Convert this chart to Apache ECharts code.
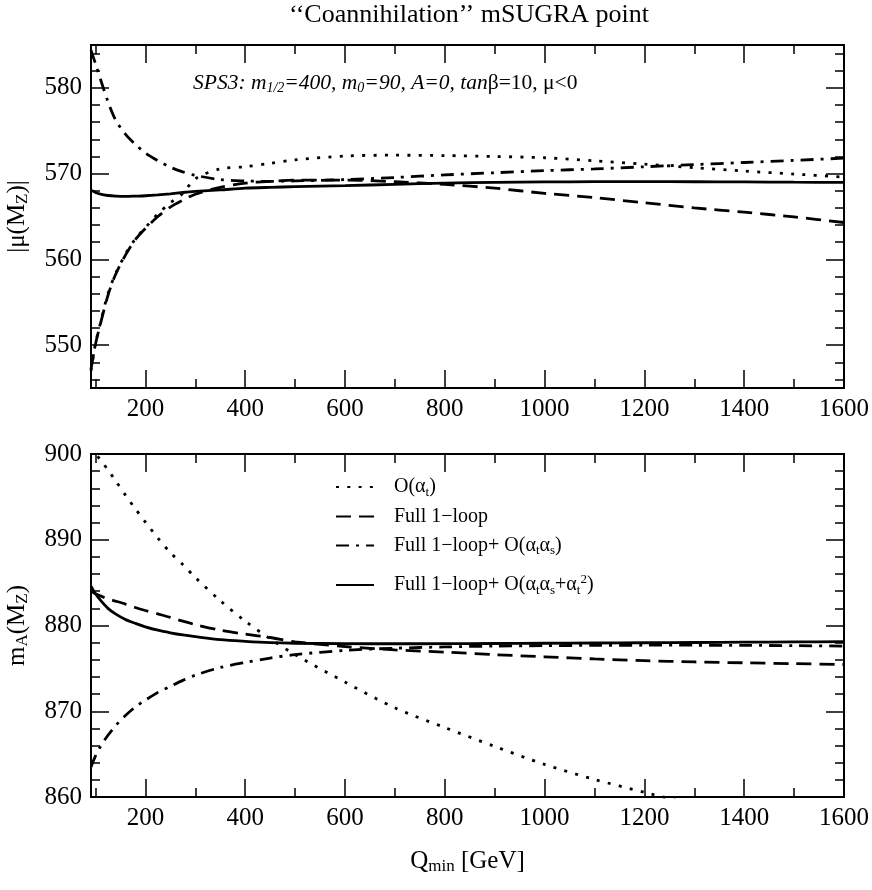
<!DOCTYPE html>
<html><head><meta charset="utf-8">
<script src="https://cdn.jsdelivr.net/npm/echarts@6/dist/echarts.min.js"></script>
<style>html,body{margin:0;padding:0;background:#fff}#c{width:872px;height:890px}</style>
</head><body><div id="c"></div>
<script>
// ---- data ----
const qValues = [91,100,110,125,140,160,180,200,225,250,275,300,350,400,450,500,600,700,800,900,1000,1100,1200,1300,1400,1500,1600];

// top panel |mu(MZ)|
const muAlphaT   = [547.0,550.2,552.6,556.0,558.3,560.6,562.4,563.7,565.3,566.6,567.7,569.4,570.55,570.8,571.2,571.6,572.05,572.15,572.1,572.0,571.85,571.5,571.1,570.7,570.3,569.95,569.6];
const muOneLoop  = [547.2,550.1,552.5,555.8,558.2,560.5,562.3,563.6,565.0,566.1,566.9,567.6,568.4,568.9,569.1,569.25,569.25,569.05,568.75,568.3,567.7,567.2,566.6,566.0,565.5,564.95,564.3];
const muAtAs     = [584.4,582.8,581.0,578.4,576.3,574.6,573.4,572.4,571.5,570.75,570.2,569.8,569.3,569.15,569.1,569.15,569.3,569.55,569.85,570.1,570.35,570.55,570.8,571.05,571.3,571.55,571.8];
const muAtAsAt2  = [568.05,567.8,567.6,567.45,567.38,567.35,567.38,567.42,567.52,567.65,567.8,567.92,568.1,568.3,568.4,568.48,568.6,568.75,568.9,568.98,569.03,569.06,569.06,569.05,569.03,569.0,568.98];

// bottom panel mA(MZ)
const maAlphaT   = [900.8,900.05,899.3,898.15,896.9,895.2,893.6,892.05,890.2,888.5,887.1,885.6,882.9,880.5,878.45,876.6,873.4,870.4,868.1,865.9,863.8,862.05,860.55,859.1,null,null,null];
const maOneLoop  = [884.0,883.7,883.45,883.1,882.85,882.5,882.1,881.75,881.35,880.95,880.5,880.1,879.45,879.0,878.6,878.1,877.55,877.15,876.9,876.6,876.35,876.1,875.9,875.75,875.65,875.55,875.45];
const maAtAs     = [863.5,864.8,865.9,867.2,868.3,869.5,870.5,871.3,872.2,872.9,873.6,874.2,875.1,875.7,876.2,876.6,877.1,877.35,877.5,877.6,877.65,877.68,877.7,877.7,877.68,877.65,877.6];
const maAtAsAt2  = [884.6,883.7,882.95,882.0,881.35,880.7,880.25,879.85,879.45,879.15,878.9,878.7,878.35,878.15,878.0,877.93,877.88,877.87,877.88,877.9,877.93,877.96,877.99,878.02,878.05,878.08,878.12];

// ticks
const xMajorTicks = [200,400,600,800,1000,1200,1400,1600];
const xMinorTicks = [100,300,500,700,900,1100,1300,1500];
const muMajorTicks = [550,560,570,580];
const muMinorTicks = [546,548,552,554,556,558,562,564,566,568,572,574,576,578,582,584];
const maMajorTicks = [860,870,880,890,900];
const maMinorTicks = [862,864,866,868,872,874,876,878,882,884,886,888,892,894,896,898];

const seriesNames = ['O(αt)','Full 1-loop','Full 1-loop+O(αtαs)','Full 1-loop+O(αtαs+αt2)'];

// ---- styling ----
const FONT = "'Liberation Serif','Times New Roman',serif";
const dashTypes = [[3,8.3],[15,8],[13,7,3,7],'solid'];
const legendRich = {
  b:{fontFamily:FONT,fontSize:20,lineHeight:24,color:'#000'},
  s:{fontFamily:FONT,fontSize:13,lineHeight:10,verticalAlign:'bottom',color:'#000'},
  p:{fontFamily:FONT,fontSize:13,lineHeight:10,verticalAlign:'top',color:'#000'}
};
const legendLabels = {
  'O(αt)':'{b|O(α}{s|t}{b|)}',
  'Full 1-loop':'{b|Full 1−loop}',
  'Full 1-loop+O(αtαs)':'{b|Full 1−loop+ O(α}{s|t}{b|α}{s|s}{b|)}',
  'Full 1-loop+O(αtαs+αt2)':'{b|Full 1−loop+ O(α}{s|t}{b|α}{s|s}{b|+α}{s|t}{p|2}{b|)}'
};
const nameRich = {
  b:{fontFamily:FONT,fontSize:25,lineHeight:28,color:'#000'},
  s:{fontFamily:FONT,fontSize:17,lineHeight:12,verticalAlign:'bottom',color:'#000'}
};
const plainNum = (v) => String(v);

function xAxis(grid, pos, ticks, len, withLabels, extra) {
  return Object.assign({
    type:'value', gridIndex:grid, position:pos, min:91, max:1600,
    axisLine:{show:true,onZero:false,lineStyle:{color:'#000',width:2}},
    axisTick:{show:true,inside:true,length:len,customValues:ticks,lineStyle:{color:'#000',width:1.5}},
    axisLabel:{show:withLabels,customValues:ticks,margin:9,fontFamily:FONT,fontSize:25,color:'#000',formatter:plainNum},
    splitLine:{show:false}
  }, extra||{});
}
function yAxis(grid, pos, min, max, ticks, len, withLabels, extra) {
  return Object.assign({
    type:'value', gridIndex:grid, position:pos, min:min, max:max,
    axisLine:{show:true,onZero:false,lineStyle:{color:'#000',width:2}},
    axisTick:{show:true,inside:true,length:len,customValues:ticks,lineStyle:{color:'#000',width:1.5}},
    axisLabel:{show:withLabels,customValues:ticks,margin:9,fontFamily:FONT,fontSize:25,color:'#000',formatter:plainNum},
    splitLine:{show:false}
  }, extra||{});
}

const xAxes = [
  xAxis(0,'bottom',xMajorTicks,18,true),
  xAxis(0,'bottom',xMinorTicks,9,false),
  xAxis(0,'top',xMajorTicks,18,false),
  xAxis(0,'top',xMinorTicks,9,false),
  xAxis(1,'bottom',xMajorTicks,18,true,{name:'{b|Q}{s|min}{b| [GeV]}',nameLocation:'middle',nameGap:50,nameTextStyle:{rich:nameRich}}),
  xAxis(1,'bottom',xMinorTicks,9,false),
  xAxis(1,'top',xMajorTicks,18,false),
  xAxis(1,'top',xMinorTicks,9,false)
];
const yAxes = [
  yAxis(0,'left',545,585,muMajorTicks,18,true,{name:'{b||μ(M}{s|Z}{b|)|}',nameLocation:'middle',nameRotate:90,nameGap:60,nameTextStyle:{rich:nameRich}}),
  yAxis(0,'left',545,585,muMinorTicks,9,false),
  yAxis(0,'right',545,585,muMajorTicks,18,false),
  yAxis(0,'right',545,585,muMinorTicks,9,false),
  yAxis(1,'left',860,900,maMajorTicks,18,true,{name:'{b|m}{s|A}{b|(M}{s|Z}{b|)}',nameLocation:'middle',nameRotate:90,nameGap:60,nameTextStyle:{rich:nameRich}}),
  yAxis(1,'left',860,900,maMinorTicks,9,false),
  yAxis(1,'right',860,900,maMajorTicks,18,false),
  yAxis(1,'right',860,900,maMinorTicks,9,false)
];

function pairs(xs, ys){ return xs.map((x,i)=>[x, ys[i]]); }
function mkSeries(name, idx, axis, values){
  return {
    name:name, type:'line', xAxisIndex:axis, yAxisIndex:axis,
    data:pairs(qValues, values), symbol:'none', smooth:0.3, clip:true,
    lineStyle:{color:'#000',width:2.8,type:dashTypes[idx]},
    itemStyle:{color:'#000'}, z:3+idx, silent:true
  };
}
const topVals = [muAlphaT, muOneLoop, muAtAs, muAtAsAt2];
const botVals = [maAlphaT, maOneLoop, maAtAs, maAtAsAt2];
const series = [];
seriesNames.forEach((n,i)=>series.push(mkSeries(n,i,0,topVals[i])));
seriesNames.forEach((n,i)=>series.push(mkSeries(n,i,4,botVals[i])));

const legendTops = [489,518.5,547.5,585];
const legends = seriesNames.map((n,i)=>({
  data:[n], left:335, top:legendTops[i]-12, padding:0, itemWidth:38, itemHeight:14,
  itemStyle:{opacity:0}, selectedMode:false,
  formatter:(name)=>legendLabels[name],
  textStyle:{rich:legendRich,padding:[0,0,0,15]}
}));

const chart = echarts.init(document.getElementById('c'), null, {renderer:'canvas'});
chart.setOption({
  backgroundColor:'#fff',
  animation:false,
  title:[
    {text:'‘‘Coannihilation’’ mSUGRA point', left:469, top:2, padding:0, textAlign:'center',
     textStyle:{fontFamily:FONT,fontSize:26,fontWeight:'normal',color:'#000'}},
    {text:'{i|SPS3: m}{is|1/2}{i|=400, m}{is|0}{i|=90, A=0, tan}{r|β=10, μ<0}', left:193, top:71, padding:0,
     textStyle:{fontWeight:'normal',rich:{
       i:{fontFamily:FONT,fontSize:21.5,fontStyle:'italic',fontWeight:'normal',lineHeight:24,color:'#000'},
       is:{fontFamily:FONT,fontSize:14,fontStyle:'italic',fontWeight:'normal',lineHeight:10,verticalAlign:'bottom',color:'#000'},
       r:{fontFamily:FONT,fontSize:21.5,fontWeight:'normal',lineHeight:24,color:'#000'}
     }}}
  ],
  legend:legends,
  grid:[
    {left:91, top:45, width:753, height:343, outerBoundsMode:'none', containLabel:false},
    {left:91, top:454, width:753, height:343, outerBoundsMode:'none', containLabel:false}
  ],
  xAxis:xAxes,
  yAxis:yAxes,
  series:series
});
</script></body></html>
